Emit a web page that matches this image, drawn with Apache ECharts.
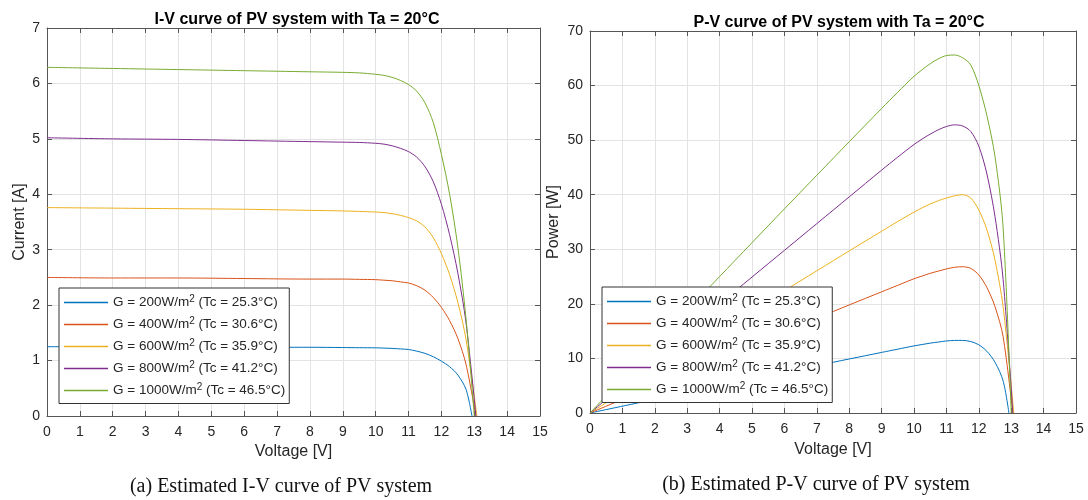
<!DOCTYPE html>
<html><head><meta charset="utf-8">
<script src="https://cdn.jsdelivr.net/npm/echarts@6/dist/echarts.min.js"></script>
<style>html,body{margin:0;padding:0;background:#fff}#c{width:1088px;height:500px}</style>
</head><body><div id="c"></div>
<script>
// ---- data ----
const seriesNames = ['G = 200W/m2 (Tc = 25.3°C)','G = 400W/m2 (Tc = 30.6°C)','G = 600W/m2 (Tc = 35.9°C)','G = 800W/m2 (Tc = 41.2°C)','G = 1000W/m2 (Tc = 46.5°C)'];
const irradiance = ['200','400','600','800','1000'];
const cellTemp = ['25.3','30.6','35.9','41.2','46.5'];
const voltage = [0, 2, 4, 6, 8, 9, 9.5, 10, 10.25, 10.5, 10.75, 11, 11.25, 11.5, 11.75, 12, 12.25, 12.5, 12.75];
const vOpenCircuit = [12.93, 13.05, 13.08, 13.05, 13.0];
// I-V curves (current [A])
const current200  = [1.25,1.25,1.24,1.24,1.24,1.235,1.232,1.23,1.225,1.22,1.21,1.20,1.17,1.13,1.07,0.99,0.89,0.74,0.48];
const current400  = [2.50,2.49,2.49,2.48,2.47,2.47,2.465,2.46,2.45,2.44,2.42,2.40,2.35,2.27,2.14,1.96,1.72,1.40,0.93];
const current600  = [3.76,3.75,3.74,3.73,3.71,3.70,3.69,3.68,3.67,3.65,3.62,3.58,3.52,3.41,3.22,2.93,2.55,2.05,1.38];
const current800  = [5.02,5.00,4.99,4.97,4.95,4.94,4.935,4.92,4.905,4.875,4.83,4.77,4.67,4.50,4.23,3.82,3.27,2.58,1.68];
const current1000 = [6.29,6.27,6.25,6.23,6.21,6.20,6.19,6.165,6.145,6.11,6.055,5.98,5.86,5.65,5.30,4.72,4.00,3.05,1.75];
// P-V curves (power [W])
const power200  = [0,2.5,4.98,7.45,9.9,11.1,11.7,12.3,12.55,12.8,13.0,13.2,13.3,13.3,13.1,12.5,11.3,9.3,5.9];
const power400  = [0,5.0,9.95,14.9,19.8,22.2,23.4,24.6,25.1,25.6,26.0,26.4,26.7,26.8,26.5,25.3,23.0,19.5,14.0];
const power600  = [0,7.5,15.0,22.4,29.7,33.3,35.1,36.8,37.6,38.3,38.9,39.4,39.8,40.0,39.4,37.2,33.6,28.0,19.5];
const power800  = [0,10.0,20.0,29.8,39.6,44.5,46.9,49.2,50.2,51.1,51.9,52.5,52.8,52.6,51.6,48.9,43.8,36.0,24.5];
const power1000 = [0,12.55,25.0,37.4,49.7,55.8,58.8,61.7,62.9,64.0,64.9,65.5,65.6,65.1,63.8,60.0,54.5,47.0,34.0];

const currents = [current200,current400,current600,current800,current1000];
const powers = [power200,power400,power600,power800,power1000];
const colors = ['#0072BD','#D95319','#EDB120','#7E2F8E','#77AC30'];

function pts(vals, voc){
  const d = voltage.map((v,i)=>[v, vals[i]]);
  d.push([voc, 0]);
  return d;
}
const FONT = '"Liberation Sans", Arial, sans-serif';
const TXT = '#262626';
function xAx(gi, show, gap){
  return {type:'value', gridIndex:gi, min:0, max:15, interval:1, position: show?'bottom':'top',
    name: show?'Voltage [V]':'', nameLocation:'middle', nameGap: gap||0,
    nameTextStyle:{fontFamily:FONT,fontSize:16,color:TXT},
    axisLine:{show:true,onZero:false,lineStyle:{color:'#555',width:1}},
    axisTick:{show:true,inside:true,length:5,lineStyle:{color:'#555'}},
    axisLabel:{show:show,fontFamily:FONT,fontSize:14,color:TXT,margin:9},
    splitLine:{show:show,lineStyle:{color:'#e3e3e3',width:1}}};
}
function yAx(gi, show, max, interval, name, gap){
  return {type:'value', gridIndex:gi, min:0, max:max, interval:interval, position: show?'left':'right',
    name: show?name:'', nameLocation:'middle', nameGap: gap,
    nameTextStyle:{fontFamily:FONT,fontSize:16,color:TXT},
    axisLine:{show:true,onZero:false,lineStyle:{color:'#555',width:1}},
    axisTick:{show:true,inside:true,length:5,lineStyle:{color:'#555'}},
    axisLabel:{show:show,fontFamily:FONT,fontSize:14,color:TXT,margin:7},
    splitLine:{show:show,lineStyle:{color:'#e3e3e3',width:1}}};
}
const series = [];
for(let k=0;k<5;k++){
  series.push({name:seriesNames[k], type:'line', xAxisIndex:0, yAxisIndex:0, data:pts(currents[k], vOpenCircuit[k]),
    showSymbol:false, symbol:'none', smooth:0.3, lineStyle:{width:1,color:colors[k]}, itemStyle:{color:colors[k]}, animation:false, clip:true});
}
for(let k=0;k<5;k++){
  series.push({name:seriesNames[k], type:'line', xAxisIndex:2, yAxisIndex:2, data:pts(powers[k], vOpenCircuit[k]),
    showSymbol:false, symbol:'none', smooth:0.3, lineStyle:{width:1,color:colors[k]}, itemStyle:{color:colors[k]}, animation:false, clip:true});
}
function legendFmt(name){
  const k = seriesNames.indexOf(name);
  return '{a|G = '+irradiance[k]+'W/m}{s|2}{a| (Tc = '+cellTemp[k]+'°C)}';
}
function legend(left, top){
  return {data:seriesNames, orient:'vertical', left:left, top:top,
    backgroundColor:'#fff', borderColor:'#333', borderWidth:1, padding:[6,4,6,5],
    itemWidth:44, itemHeight:1.6, itemGap:6.5, selectedMode:false, icon:'rect',
    formatter: legendFmt,
    textStyle:{fontFamily:FONT,fontSize:13.5,color:TXT,
      rich:{a:{fontFamily:FONT,fontSize:13.5,color:TXT,lineHeight:17},
            s:{fontFamily:FONT,fontSize:10,color:TXT,padding:[0,0,7,0]}}}};
}
const chart = echarts.init(document.getElementById('c'), null, {renderer:'canvas'});
chart.setOption({
  animation:false,
  backgroundColor:'#fff',
  color: colors,
  title:[
    {text:'I-V curve of PV system with Ta = 20°C', left:292, top:7, textAlign:'center',
     textStyle:{fontFamily:FONT,fontSize:16,fontWeight:'bold',color:'#000'}},
    {text:'P-V curve of PV system with Ta = 20°C', left:834, top:10, textAlign:'center',
     textStyle:{fontFamily:FONT,fontSize:16,fontWeight:'bold',color:'#000'}}
  ],
  grid:[
    {left:47, top:28, width:493, height:388},
    {left:590, top:31, width:486, height:382}
  ],
  xAxis:[xAx(0,true,28), xAx(0,false), xAx(1,true,29), xAx(1,false)],
  yAxis:[yAx(0,true,7,1,'Current [A]',19), yAx(0,false,7,1,'',0), yAx(1,true,70,10,'Power [W]',28), yAx(1,false,70,10,'',0)],
  legend:[legend(59,288), legend(602,287)],
  series: series,
  graphic:[
    {type:'text', style:{text:'(a) Estimated I-V curve of PV system', x:281, y:487, textAlign:'center', textVerticalAlign:'middle', font:'20px "Liberation Serif", "Times New Roman", serif', fill:'#111'}},
    {type:'text', style:{text:'(b) Estimated P-V curve of PV system', x:816, y:485, textAlign:'center', textVerticalAlign:'middle', font:'20px "Liberation Serif", "Times New Roman", serif', fill:'#111'}}
  ]
});
</script></body></html>
